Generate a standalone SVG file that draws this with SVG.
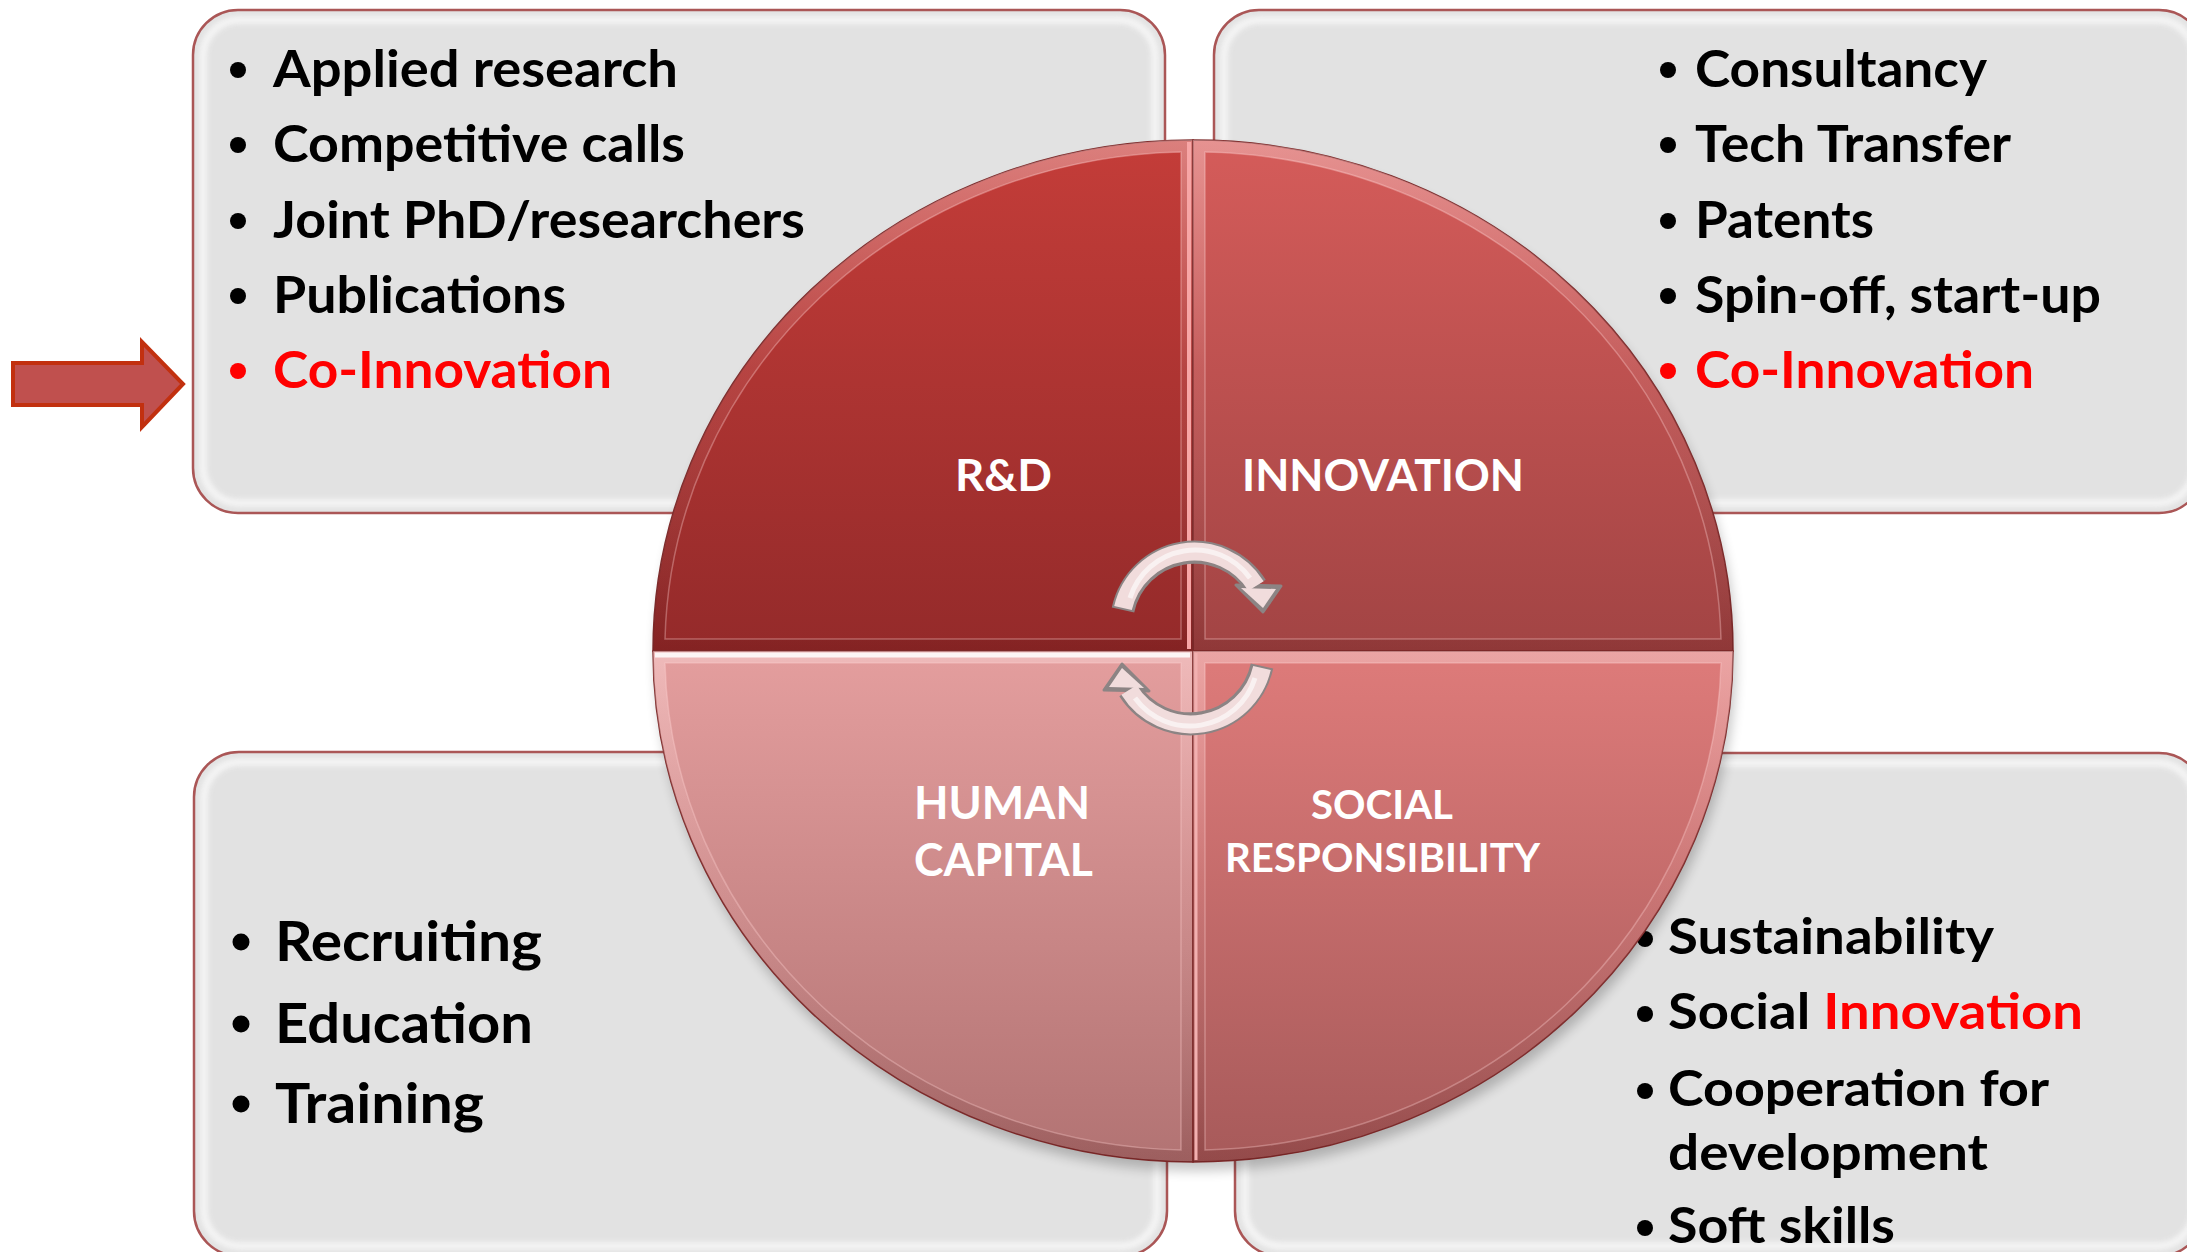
<svg xmlns="http://www.w3.org/2000/svg" width="2187" height="1252" viewBox="0 0 2187 1252">
  <defs>
    <style>
      .box { fill: #e2e2e2; stroke: #aa5656; stroke-width: 2.5; }
      .box-hi { fill: none; stroke: #f7f7f7; stroke-width: 8; opacity: 0.85; filter: url(#soft); }
      .item { font-family: Lato, "Open Sans", "Liberation Sans", sans-serif; font-weight: 700; fill: #000000; }
      .red { fill: #ff0000; }
      .dot { fill: #000000; }
      .dot.red { fill: #ff0000; }
      .qlabel { font-family: Lato, "Open Sans", "Liberation Sans", sans-serif; font-weight: 700; fill: #ffffff; }
      .ring { fill: url(#bevelShade); fill-rule: evenodd; }
      .ring-edge { fill: none; stroke: #ffd0d0; stroke-width: 1.5; opacity: 0.35; }
      .q-edge { stroke: #7e2a2a; stroke-width: 1.5; }
      .cyc-out { fill: none; stroke: #8c8484; stroke-width: 23; }
      .cyc-body { fill: none; stroke: #f1dcdc; stroke-width: 18; }
      .cyc-hi { fill: none; stroke: #ffffff; stroke-width: 5; opacity: 0.6; }
      .cyc-head-out { fill: #8c8484; stroke: #8c8484; stroke-width: 3; stroke-linejoin: round; }
      .cyc-head { fill: #f1dcdc; }
    </style>
    <filter id="soft" x="-5%" y="-5%" width="110%" height="110%">
      <feGaussianBlur stdDeviation="2.5"/>
    </filter>
    <filter id="shadow" x="-10%" y="-10%" width="120%" height="120%">
      <feGaussianBlur stdDeviation="6"/>
    </filter>
    <linearGradient id="gTL" x1="0" y1="0" x2="0" y2="1">
      <stop offset="0" stop-color="#c43d39"/>
      <stop offset="1" stop-color="#942a2a"/>
    </linearGradient>
    <linearGradient id="gTR" x1="0" y1="0" x2="0" y2="1">
      <stop offset="0" stop-color="#d55c5a"/>
      <stop offset="1" stop-color="#a24444"/>
    </linearGradient>
    <linearGradient id="gBL" x1="0" y1="0" x2="0" y2="1">
      <stop offset="0" stop-color="#e49e9e"/>
      <stop offset="1" stop-color="#b27373"/>
    </linearGradient>
    <linearGradient id="gBR" x1="0" y1="0" x2="0" y2="1">
      <stop offset="0" stop-color="#de7b7a"/>
      <stop offset="1" stop-color="#a75a5a"/>
    </linearGradient>
    <linearGradient id="bevelShade" x1="0" y1="0" x2="0" y2="1">
      <stop offset="0" stop-color="#ffe4e4" stop-opacity="0.4"/>
      <stop offset="0.45" stop-color="#ffd0d0" stop-opacity="0.1"/>
      <stop offset="1" stop-color="#3a0000" stop-opacity="0.18"/>
    </linearGradient>
  </defs>

  <!-- white page -->
  <rect x="0" y="0" width="2187" height="1252" fill="#ffffff"/>

  <!-- corner boxes with bullet lists -->
  <g id="box-rd">
    <rect class="box" x="193" y="10" width="972" height="503" rx="45"/>
    <rect class="box-hi" x="203" y="20" width="952" height="483" rx="36"/>
    <circle class="dot" cx="238" cy="70" r="8"/>
    <text class="item" x="273" y="87" font-size="52" textLength="405" lengthAdjust="spacingAndGlyphs">Applied research</text>
    <circle class="dot" cx="238" cy="145" r="8"/>
    <text class="item" x="273" y="162" font-size="52" textLength="412" lengthAdjust="spacingAndGlyphs">Competitive calls</text>
    <circle class="dot" cx="238" cy="221" r="8"/>
    <text class="item" x="273" y="238" font-size="52" textLength="532" lengthAdjust="spacingAndGlyphs">Joint PhD/researchers</text>
    <circle class="dot" cx="238" cy="296" r="8"/>
    <text class="item" x="273" y="313" font-size="52" textLength="293" lengthAdjust="spacingAndGlyphs">Publications</text>
    <circle class="dot red" cx="238" cy="371" r="8"/>
    <text class="item red" x="273" y="388" font-size="52" textLength="339" lengthAdjust="spacingAndGlyphs">Co-Innovation</text>
  </g>

  <g id="box-innovation">
    <rect class="box" x="1214" y="10" width="990" height="503" rx="45"/>
    <rect class="box-hi" x="1224" y="20" width="970" height="483" rx="36"/>
    <circle class="dot" cx="1668" cy="70" r="8"/>
    <text class="item" x="1695" y="87" font-size="52" textLength="292" lengthAdjust="spacingAndGlyphs">Consultancy</text>
    <circle class="dot" cx="1668" cy="145" r="8"/>
    <text class="item" x="1695" y="162" font-size="52" textLength="316" lengthAdjust="spacingAndGlyphs">Tech Transfer</text>
    <circle class="dot" cx="1668" cy="221" r="8"/>
    <text class="item" x="1695" y="238" font-size="52" textLength="179" lengthAdjust="spacingAndGlyphs">Patents</text>
    <circle class="dot" cx="1668" cy="296" r="8"/>
    <text class="item" x="1695" y="313" font-size="52" textLength="406" lengthAdjust="spacingAndGlyphs">Spin-off, start-up</text>
    <circle class="dot red" cx="1668" cy="371" r="8"/>
    <text class="item red" x="1695" y="388" font-size="52" textLength="339" lengthAdjust="spacingAndGlyphs">Co-Innovation</text>
  </g>

  <g id="box-human-capital">
    <rect class="box" x="194" y="752" width="973" height="504" rx="45"/>
    <rect class="box-hi" x="204" y="762" width="953" height="484" rx="36"/>
    <circle class="dot" cx="241" cy="942" r="8.5"/>
    <text class="item" x="275" y="961" font-size="56" textLength="267" lengthAdjust="spacingAndGlyphs">Recruiting</text>
    <circle class="dot" cx="241" cy="1024" r="8.5"/>
    <text class="item" x="275" y="1043" font-size="56" textLength="258" lengthAdjust="spacingAndGlyphs">Education</text>
    <circle class="dot" cx="241" cy="1104" r="8.5"/>
    <text class="item" x="275" y="1123" font-size="56" textLength="209" lengthAdjust="spacingAndGlyphs">Training</text>
  </g>

  <g id="box-social">
    <rect class="box" x="1235" y="753" width="969" height="503" rx="45"/>
    <rect class="box-hi" x="1245" y="763" width="949" height="483" rx="36"/>
    <circle class="dot" cx="1645" cy="939" r="8"/>
    <text class="item" x="1668" y="954" font-size="49" textLength="326" lengthAdjust="spacingAndGlyphs">Sustainability</text>
    <circle class="dot" cx="1645" cy="1014" r="8"/>
    <text class="item" x="1668" y="1029" font-size="49" textLength="415" lengthAdjust="spacingAndGlyphs">Social <tspan class="red">Innovation</tspan></text>
    <circle class="dot" cx="1645" cy="1091" r="8"/>
    <text class="item" x="1668" y="1106" font-size="49" textLength="381" lengthAdjust="spacingAndGlyphs">Cooperation for</text>
    <text class="item" x="1668" y="1170" font-size="49" textLength="320" lengthAdjust="spacingAndGlyphs">development</text>
    <circle class="dot" cx="1645" cy="1228" r="8"/>
    <text class="item" x="1668" y="1243" font-size="49" textLength="227" lengthAdjust="spacingAndGlyphs">Soft skills</text>
  </g>

  <!-- soft shadow under the pie -->
  <ellipse cx="1196" cy="660" rx="540" ry="511" fill="#000000" opacity="0.22" filter="url(#shadow)"/>

  <!-- four-quadrant pie -->
  <g id="quadrant-rd">
    <path class="q-edge" fill="url(#gTL)" d="M1193,651 L653,651 A540,511 0 0 1 1193,140 Z"/>
    <path class="ring" d="M1193,651 L653,651 A540,511 0 0 1 1193,140 Z M1181,639 L665,639 A528,499 0 0 1 1181,152 Z"/>
    <path class="ring-edge" d="M1181,639 L665,639 A528,499 0 0 1 1181,152 Z"/>
    <text class="qlabel" x="955" y="491" font-size="43" textLength="97" lengthAdjust="spacingAndGlyphs">R&amp;D</text>
  </g>

  <g id="quadrant-innovation">
    <path class="q-edge" fill="url(#gTR)" d="M1193,651 L1193,140 A540,511 0 0 1 1733,651 Z"/>
    <path class="ring" d="M1193,651 L1193,140 A540,511 0 0 1 1733,651 Z M1205,639 L1205,152 A528,499 0 0 1 1721,639 Z"/>
    <path class="ring-edge" d="M1205,639 L1205,152 A528,499 0 0 1 1721,639 Z"/>
    <text class="qlabel" x="1242" y="491" font-size="43" textLength="282" lengthAdjust="spacingAndGlyphs">INNOVATION</text>
  </g>

  <g id="quadrant-human-capital">
    <path class="q-edge" fill="url(#gBL)" d="M1193,651 L1193,1162 A540,511 0 0 1 653,651 Z"/>
    <path class="ring" d="M1193,651 L1193,1162 A540,511 0 0 1 653,651 Z M1181,663 L1181,1150 A528,499 0 0 1 665,663 Z"/>
    <path class="ring-edge" d="M1181,663 L1181,1150 A528,499 0 0 1 665,663 Z"/>
    <line x1="655" y1="655" x2="1190" y2="655" stroke="#ffffff" stroke-width="5" opacity="0.85"/>
    <text class="qlabel" x="914" y="819" font-size="46" textLength="176" lengthAdjust="spacingAndGlyphs">HUMAN</text>
    <text class="qlabel" x="914" y="876" font-size="46" textLength="179" lengthAdjust="spacingAndGlyphs">CAPITAL</text>
  </g>

  <g id="quadrant-social">
    <path class="q-edge" fill="url(#gBR)" d="M1193,651 L1733,651 A540,511 0 0 1 1193,1162 Z"/>
    <path class="ring" d="M1193,651 L1733,651 A540,511 0 0 1 1193,1162 Z M1205,663 L1721,663 A528,499 0 0 1 1205,1150 Z"/>
    <path class="ring-edge" d="M1205,663 L1721,663 A528,499 0 0 1 1205,1150 Z"/>
    <text class="qlabel" x="1311" y="819" font-size="40" textLength="142" lengthAdjust="spacingAndGlyphs">SOCIAL</text>
    <text class="qlabel" x="1225" y="872" font-size="40" textLength="315" lengthAdjust="spacingAndGlyphs">RESPONSIBILITY</text>
  </g>

  <!-- dividers between quadrants -->
  <g id="dividers">
    <line x1="1189" y1="142" x2="1189" y2="649" stroke="#f7a6a6" stroke-width="4"/>
    <line x1="1196" y1="653" x2="1196" y2="1160" stroke="#f2b0b0" stroke-width="3"/>
  </g>

  <!-- connectors: pointer arrow and the cycle arrows in the centre -->
  <g id="connectors">
    <polygon points="13,363 142,363 142,342 183,384 142,427 142,405 13,405" fill="#c0504e" stroke="#c2300f" stroke-width="4" stroke-linejoin="miter"/>

    <g id="cycle-top">
      <path class="cyc-out" d="M1123,610 A73,73 0 0 1 1256,586"/>
      <polygon class="cyc-head-out" points="1236,585 1281,586 1263,612"/>
      <path class="cyc-body" d="M1123,608 A73,73 0 0 1 1256,586"/>
      <polygon class="cyc-head" points="1241,588 1276,589 1263,608"/>
      <path class="cyc-hi" d="M1130,598 A68,68 0 0 1 1250,578"/>
    </g>
    <g id="cycle-bottom" transform="rotate(180 1192.5 638)">
      <path class="cyc-out" d="M1123,610 A73,73 0 0 1 1256,586"/>
      <polygon class="cyc-head-out" points="1236,585 1281,586 1263,612"/>
      <path class="cyc-body" d="M1123,608 A73,73 0 0 1 1256,586"/>
      <polygon class="cyc-head" points="1241,588 1276,589 1263,608"/>
      <path class="cyc-hi" d="M1130,598 A68,68 0 0 1 1250,578"/>
    </g>
  </g>
</svg>
